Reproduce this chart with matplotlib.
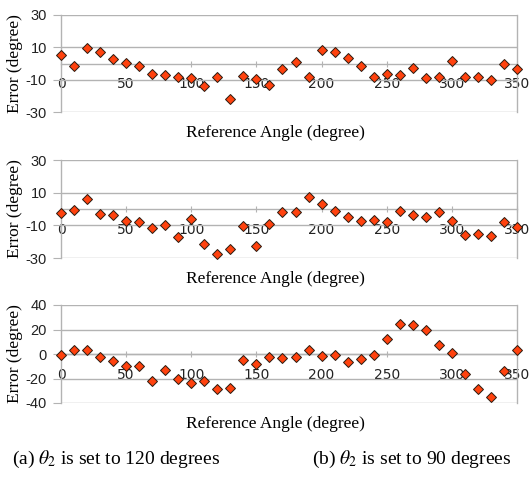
import numpy as np
import matplotlib.pyplot as plt

# -----------------------------
# DATA
# -----------------------------
angles = list(range(0, 360, 10))

err_top = [5.4, -1.7, 9.6, 7.1, 2.5, 0.2, -1.7, -6.3, -7.1, -8.5,
           -9.0, -13.7, -8.5, -21.7, -7.5, -9.4, -13.3, -3.3, 1.0, -8.3,
           8.3, 6.9, 3.1, -1.3, -8.5, -6.3, -7.1, -2.9, -9.2, -8.5,
           1.7, -8.5, -8.1, -10.0, -0.2, -3.3]

err_mid = [-2.7, -0.4, 6.4, -3.1, -3.5, -7.6, -8.2, -11.8, -9.9, -17.1,
           -6.4, -21.6, -27.6, -24.7, -10.3, -22.9, -9.3, -1.9, -1.6, 7.6,
           3.3, -1.2, -5.2, -7.4, -6.8, -8.0, -1.4, -3.5, -4.9, -1.9,
           -7.4, -15.7, -15.3, -16.3, -8.2, -10.9]

err_bot = [-0.8, 3.6, 3.6, -2.5, -6.0, -9.6, -10.1, -21.9, -13.4, -20.3,
           -23.3, -21.9, -28.8, -27.9, -4.7, -8.2, -2.7, -3.3, -2.5, 3.3,
           -1.9, -1.1, -6.6, -3.8, -1.1, 12.6, 24.4, 23.3, 19.7, 7.4,
           0.8, -16.2, -28.2, -35.3, -14.2, 3.3]

x_ticks = [0, 50, 100, 150, 200, 250, 300, 350]
y_ticks_small = [-30, -10, 10, 30]
y_ticks_big = [-40, -20, 0, 20, 40]

captions = [r"(a) $\theta_2$ is set to 120 degrees",
            r"(b) $\theta_2$ is set to 90 degrees"]

# -----------------------------
# STYLE
# -----------------------------
plt.rcParams['mathtext.fontset'] = 'stix'
GRID = "#b3b3b3"
SERIF = "Liberation Serif"
SANS = "Liberation Sans"
W, H = 530, 479

fig = plt.figure(figsize=(5.3, 4.79), dpi=100)

# pixel boxes: (top, bottom)
boxes = [(15, 112), (160, 258), (305, 403)]
series = [(err_top, y_ticks_small), (err_mid, y_ticks_small), (err_bot, y_ticks_big)]
left_px, right_px = 61, 517

for (top, bot), (vals, yt) in zip(boxes, series):
    ax = fig.add_axes([left_px / W, 1 - bot / H, (right_px - left_px) / W, (bot - top) / H])
    ax.plot(angles, vals, linestyle="none", marker="D", markersize=5.6,
            markerfacecolor="#ff420e", markeredgecolor="#2a1a10",
            markeredgewidth=0.7, zorder=3, clip_on=False)
    ax.set_xlim(0, 350)
    ax.set_ylim(yt[0], yt[-1])
    ax.set_yticks(yt)
    ax.set_yticklabels([str(v) for v in yt], fontfamily=SANS, fontsize=10.5)
    ax.set_xticks(x_ticks)
    ax.set_xticklabels([str(v) for v in x_ticks], fontfamily=SANS, fontsize=10.5)
    ax.yaxis.grid(True, color=GRID, linewidth=1.0)
    ax.set_axisbelow(True)

    ax.spines['bottom'].set_position(('data', 0))
    ax.spines['top'].set_visible(False)
    for s in ['bottom', 'left', 'right']:
        ax.spines[s].set_color(GRID)
        ax.spines[s].set_linewidth(1.0)
    ax.tick_params(axis='y', length=6, color=GRID, pad=4, labelcolor="#222222")
    ax.tick_params(axis='x', length=4, color=GRID, direction='inout', pad=8,
                   labelcolor="#222222")

    mid = 1 - (top + bot) / 2 / H
    fig.text(15 / W, mid, "Error (degree)", rotation=90, ha="center", va="center",
             fontfamily=SERIF, fontsize=12.5)
    fig.text(275 / W, 1 - (bot + 21) / H, "Reference Angle (degree)",
             ha="center", va="center", fontfamily=SERIF, fontsize=12.5)

fig.text(12 / W, 1 - 459 / H, captions[0], ha="left", va="center",
         fontfamily=SERIF, fontsize=14)
fig.text(312 / W, 1 - 459 / H, captions[1], ha="left", va="center",
         fontfamily=SERIF, fontsize=14)

fig.savefig("out.png", dpi=100)
